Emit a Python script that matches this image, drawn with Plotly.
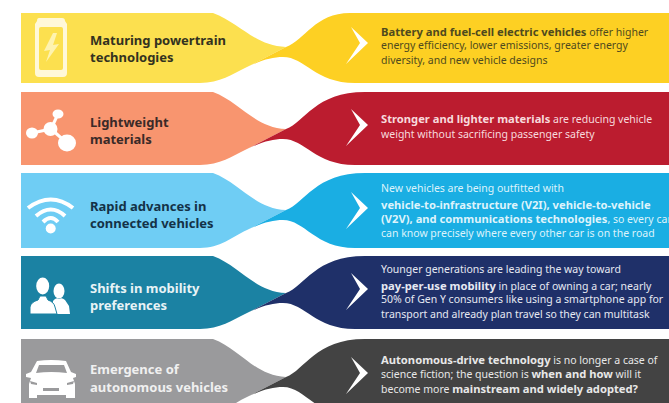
"""Connected car trends infographic"""
import plotly.graph_objects as go

FONT = "Noto Sans"

row_tops = [13, 92, 173, 256, 339]
row_bottoms = [83, 165, 248, 329, 416]
row_waists = [47, 129, 210, 293, 377]
right_flats = [350, 365, 365, 365, 365]
chevron_centers = [43, 125, 208, 289, 373]

left_colors = ["#FCE04F", "#F8956F", "#6FCDF4", "#1B82A3", "#9A9A9C"]
right_colors = ["#FDD023", "#BB1C2F", "#1AAEE3", "#1F3069", "#434343"]
title_colors = ["#33321F", "#3A2A28", "#143247", "#E8F3F6", "#F0F0F0"]
body_colors = ["#4F4A1E", "#F7DADD", "#DDF3FB", "#E6E9F2", "#E8E8E8"]

titles = [
    ["Maturing powertrain", "technologies"],
    ["Lightweight", "materials"],
    ["Rapid advances in", "connected vehicles"],
    ["Shifts in mobility", "preferences"],
    ["Emergence of", "autonomous vehicles"],
]
title_ys = [[40, 57], [122, 139], [206, 223], [288, 305], [369, 387]]

bodies = [
    ["<b>Battery and fuel-cell electric vehicles</b> offer higher",
     "energy efficiency, lower emissions, greater energy",
     "diversity, and new vehicle designs"],
    ["<b>Stronger and lighter materials</b> are reducing vehicle",
     "weight without sacrificing passenger safety"],
    ["New vehicles are being outfitted with",
     "<b>vehicle-to-infrastructure (V2I), vehicle-to-vehicle</b>",
     "<b>(V2V), and communications technologies</b>, so every car",
     "can know precisely where every other car is on the road"],
    ["Younger generations are leading the way toward",
     "<b>pay-per-use mobility</b> in place of owning a car; nearly",
     "50% of Gen Y consumers like using a smartphone app for",
     "transport and already plan travel so they can multitask"],
    ["<b>Autonomous-drive technology</b> is no longer a case of",
     "science fiction; the question is <b>when and how</b> will it",
     "become more <b>mainstream and widely adopted?</b>"],
]
body_ys = [
    [31, 45, 60],
    [118, 134],
    [188, 204, 218, 233],
    [269, 285, 299, 314],
    [359, 373, 388],
]


def left_band(top, bottom, waist):
    tip = waist + 20
    return (f"M21,{top} L213,{top} C240,{top + 10} 255,{waist - 1} 286,{waist} "
            f"L247,{tip} C232,{tip + 7} 220,{bottom} 200,{bottom} L21,{bottom} Z")


def right_band(top, bottom, waist, flat):
    tip = waist + 20
    low = waist + 10
    return (f"M286,{waist} C305,{waist - 7} 315,{top} {flat},{top} L669,{top} L669,{bottom} "
            f"L355,{bottom} C315,{bottom} 305,{low} 283,{low} "
            f"C272,{low} 262,{tip - 7} 247,{tip} Z")


def chevron(cy):
    return (f"M351,{cy - 16} L368,{cy} L346,{cy + 21} L360,{cy} Z")


def ellipse(cx, cy, rx, ry, color):
    return dict(type="circle", xref="x", yref="y", x0=cx - rx, x1=cx + rx,
                y0=cy - ry, y1=cy + ry, fillcolor=color, line_width=0, layer="above")


def path(d, fill="white", line=None, width=0):
    return dict(type="path", xref="x", yref="y", path=d, layer="above",
                fillcolor=fill, line=dict(color=line or "rgba(0,0,0,0)", width=width))


def sized_bold(text):
    # bold runs sit a little wider than the regular text in the original
    return text.replace("<b>", '<span style="font-size:11.2px"><b>').replace("</b>", "</b></span>")


shapes = []
for i in range(5):
    shapes.append(path(left_band(row_tops[i], row_bottoms[i], row_waists[i]), left_colors[i]))
    shapes.append(path(right_band(row_tops[i], row_bottoms[i], row_waists[i], right_flats[i]),
                       right_colors[i]))
    shapes.append(path(chevron(chevron_centers[i])))

# battery
shapes += [
    path("M39,18 L62,18 Q65,18 65,21 L67,24 L67,73 Q67,77 63,77 L39,77 Q35,77 35,73 "
         "L35,24 L37,21 Q37,18 39,18 Z", "#FFF8D8"),
    path("M41,27 L61,27 Q63,27 63,29 L63,68 Q63,70 61,70 L41,70 Q39,70 39,68 L39,29 Q39,27 41,27 Z",
         left_colors[0]),
    path("M53,33 L44,51 L50,50 L46,62 L59,44 L53,45 L57,33 Z", "#FEF3B0"),
]

# molecule
shapes += [
    path("M51,129 L58,114", "rgba(0,0,0,0)", "white", 3),
    path("M51,129 L32,133", "rgba(0,0,0,0)", "white", 3),
    path("M51,129 L67,143", "rgba(0,0,0,0)", "white", 3),
    ellipse(50.5, 129, 7, 7, "white"),
    ellipse(58, 114, 5.5, 4.5, "white"),
    ellipse(32, 133, 6, 5.5, "white"),
    ellipse(67, 143, 9, 8.5, "white"),
]

# wifi
shapes += [
    path("M28,208 Q51,191 73,208", "rgba(0,0,0,0)", "white", 4),
    path("M36,216 Q51,203 65,216", "rgba(0,0,0,0)", "white", 4),
    path("M43,222 Q51,214 58,222", "rgba(0,0,0,0)", "white", 4),
    ellipse(50.7, 228.5, 5, 5, "white"),
]

# people
shapes += [
    ellipse(59, 291, 5.5, 7.5, "white"),
    path("M53,301 Q56,297 59,299 Q62,297 65,300 L69,306 L70,314 L52,314 Z"),
    ellipse(42.7, 286, 6.5, 8.5, "white"),
    path("M30,314 L30,307 Q31,302 38,300 L40,296 L46,296 L48,300 Q54,302 55,307 L57,314 Z",
         "white", left_colors[3], 1),
]

# car
shapes += [
    path("M37,361 Q51,359 66,361 L71,372 L76,374 L76,377 L73,378 L75,384 L75,398 L66,398 "
         "L66,395 L37,395 L37,398 L29,398 L29,384 L31,378 L26,377 L26,374 L31,372 Z"),
    path("M39,365 L64,365 L67,373 Q51,371 36,373 Z", left_colors[4]),
    path("M30,381 L37,383 L37,385 L31,384 Z", left_colors[4]),
    path("M74,381 L67,383 L67,385 L73,384 Z", left_colors[4]),
    path("M43,388 L59,388 L59,391 L43,391 Z", left_colors[4]),
]

annotations = []
for i in range(5):
    for text, y in zip(titles[i], title_ys[i]):
        annotations.append(dict(x=88, y=y, text=f"<b>{text}</b>", xref="x", yref="y",
                                xanchor="left", yanchor="middle", showarrow=False,
                                font=dict(family=FONT, size=13, color=title_colors[i])))
    for text, y in zip(bodies[i], body_ys[i]):
        annotations.append(dict(x=379, y=y, text=sized_bold(text), xref="x", yref="y",
                                xanchor="left", yanchor="middle", showarrow=False,
                                font=dict(family=FONT, size=10.5, color=body_colors[i])))

fig = go.Figure(go.Scatter(x=[0, 669], y=[0, 403], mode="none", hoverinfo="skip", showlegend=False))
fig.update_layout(
    width=669, height=403,
    margin=dict(l=0, r=0, t=0, b=0),
    paper_bgcolor="white", plot_bgcolor="white",
    showlegend=False,
    shapes=shapes,
    annotations=annotations,
)
fig.update_xaxes(range=[0, 669], visible=False, fixedrange=True)
fig.update_yaxes(range=[403, 0], visible=False, fixedrange=True)

fig.write_html("out.html", config=dict(displayModeBar=False),
               post_script="document.body.style.margin='0';document.body.style.overflow='hidden';")
